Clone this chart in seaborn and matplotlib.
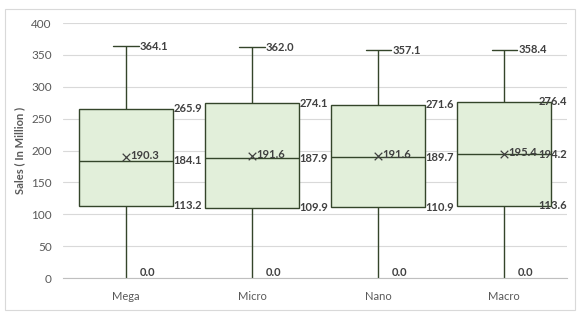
import numpy as np
import pandas as pd
import matplotlib
matplotlib.use("Agg")
import matplotlib.pyplot as plt
import seaborn as sns

categories = ["Mega", "Micro", "Nano", "Macro"]
mins = [0.0, 0.0, 0.0, 0.0]
q1s = [113.2, 109.9, 110.9, 113.6]
medians = [184.1, 187.9, 189.7, 194.2]
q3s = [265.9, 274.1, 271.6, 276.4]
maxs = [364.1, 362.0, 357.1, 358.4]
means = [190.3, 191.6, 191.6, 195.4]
yticks = [0, 50, 100, 150, 200, 250, 300, 350, 400]

sns.set_theme(style="white")
plt.rcParams["font.family"] = ["Lato", "DejaVu Sans"]

rows = []
for c, a, b, m, d, e in zip(categories, mins, q1s, medians, q3s, maxs):
    for v in (a, b, m, d, e):
        rows.append({"cat": c, "val": v})
df = pd.DataFrame(rows)

fig = plt.figure(figsize=(5.83, 3.17), dpi=100)
ax = fig.add_axes([0.108, 0.123, 0.865, 0.804])

line_c = "#34452A"
box_w = 0.75
sns.boxplot(data=df, x="cat", y="val", order=categories, whis=(0, 100),
            width=box_w, color="#E2EFDA", saturation=1, linecolor=line_c,
            linewidth=1.0, fliersize=0, ax=ax)

# hide caps at the bottom (they sit on the axis line); narrow the top caps
for ln in ax.lines:
    yd = np.asarray(ln.get_ydata(), dtype=float)
    xd = np.asarray(ln.get_xdata(), dtype=float)
    if len(yd) == 2 and yd[0] == yd[1] == 0.0 and abs(xd[1] - xd[0]) < 0.5:
        ln.set_visible(False)
    elif len(yd) == 2 and yd[0] == yd[1] and abs(xd[1] - xd[0]) < 0.5 and yd[0] > 300:
        cx = (xd[0] + xd[1]) / 2
        ln.set_xdata([cx - 0.1, cx + 0.1])

xpos = np.arange(len(categories))
ax.scatter(xpos, means, marker="x", s=30, color="#404040", linewidths=0.9, zorder=5)

ax.set_ylim(0, 400)
ax.set_xlim(-0.5, len(categories) - 0.5)
xmax = len(categories) - 0.5

lab_c = "#404040"
fs = 8
kw = dict(fontsize=fs, fontweight="bold", color=lab_c, va="center",
          textcoords="offset points")
last = len(categories) - 1
for i in range(len(categories)):
    ax.annotate(f"{maxs[i]:.1f}", (i + 0.1, maxs[i]), xytext=(1, 0), ha="left", **kw)
    for v in (q3s[i], medians[i], q1s[i]):
        if i == last:
            ax.annotate(f"{v:.1f}", (xmax, v), xytext=(0, 0), ha="right", **kw)
        else:
            ax.annotate(f"{v:.1f}", (i + box_w / 2, v), xytext=(0, 0), ha="left", **kw)
    ax.annotate(f"{means[i]:.1f}", (i, means[i]), xytext=(3, 1), ha="left", **kw)
    ax.annotate(f"{mins[i]:.1f}", (i, mins[i]), xytext=(10, 4), ha="left", **kw)

ax.set_yticks(yticks)
ax.set_yticklabels([str(t) for t in yticks])
ax.yaxis.grid(True, color="#D9D9D9", linewidth=0.8)
ax.set_axisbelow(True)
for s in ("left", "right", "top"):
    ax.spines[s].set_visible(False)
ax.spines["bottom"].set_color("#BFBFBF")
ax.spines["bottom"].set_linewidth(0.8)
ax.tick_params(axis="y", length=0, labelsize=8.5, labelcolor="#595959", pad=8)
ax.tick_params(axis="x", length=0, labelsize=8, labelcolor="#595959", pad=9)
ax.set_xlabel("")
ax.set_ylabel("Sales ( In Million )", fontsize=8, fontweight="bold", color="#595959", labelpad=4)

border = plt.Rectangle((0.009, 0.022), 0.978, 0.95, transform=fig.transFigure,
                       fill=False, edgecolor="#D9D9D9", linewidth=0.8)
fig.patches.append(border)

fig.savefig("out.png", dpi=100, facecolor="white")
